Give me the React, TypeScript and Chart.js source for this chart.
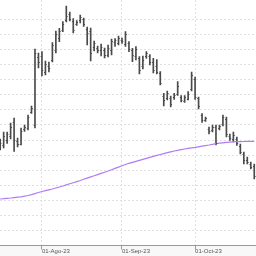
import { useEffect, useRef } from "react";
import { Chart, registerables } from "chart.js";

Chart.register(...registerables);

// Trading days shown (Jul 14 – Oct 25, 2023)
const dates: string[] = [
  "2023-07-14", "2023-07-17", "2023-07-18", "2023-07-19", "2023-07-20", "2023-07-21",
  "2023-07-24", "2023-07-25", "2023-07-26", "2023-07-27", "2023-07-28", "2023-07-31",
  "2023-08-01", "2023-08-02", "2023-08-03", "2023-08-04", "2023-08-07", "2023-08-08",
  "2023-08-09", "2023-08-10", "2023-08-11", "2023-08-14", "2023-08-15", "2023-08-16",
  "2023-08-17", "2023-08-18", "2023-08-21", "2023-08-22", "2023-08-23", "2023-08-24",
  "2023-08-25", "2023-08-28", "2023-08-29", "2023-08-30", "2023-08-31",
  "2023-09-01", "2023-09-04", "2023-09-05", "2023-09-06", "2023-09-07", "2023-09-08",
  "2023-09-11", "2023-09-12", "2023-09-13", "2023-09-14", "2023-09-15", "2023-09-18",
  "2023-09-19", "2023-09-20", "2023-09-21", "2023-09-22", "2023-09-25", "2023-09-26",
  "2023-09-27", "2023-09-28", "2023-09-29",
  "2023-10-02", "2023-10-03", "2023-10-04", "2023-10-05", "2023-10-06", "2023-10-09",
  "2023-10-10", "2023-10-11", "2023-10-12", "2023-10-13", "2023-10-16", "2023-10-17",
  "2023-10-18", "2023-10-19", "2023-10-20", "2023-10-23", "2023-10-24", "2023-10-25",
];

const openValues: number[] = [
  97.5, 100.5, 105.5, 109.5, 123.5, 104.5, 101.5, 116.5, 117.5, 133.5,
  120.5, 188.5, 189.5, 173.5, 179.5, 185.5, 195.5, 207.5, 215.5, 225.5,
  231.5, 224.5, 221.5, 225.5, 226.5, 216.5, 214.5, 198.5, 197.5, 195.5,
  195.5, 190.5, 195.5, 203.5, 202.5, 205.5, 201.5, 202.5, 195.5, 189.5,
  187.5, 179.5, 189.5, 189.5, 183.5, 179.5, 172.5, 149.5, 147.5, 147.5,
  148.5, 151.5, 148.5, 144.5, 146.5, 156.5, 166.5, 147.5, 130.5, 125.5,
  116.5, 115.5, 118.5, 117.5, 121.5, 126.5, 109.5, 106.5, 106.5, 99.5,
  91.5, 85.5, 81.5, 79.5,
];

const highValues: number[] = [
  106.5, 113.5, 113.5, 122.5, 127.5, 107.5, 117.5, 120.5, 130.5, 139.5,
  196.5, 192.5, 194.0, 184.5, 183.5, 203.0, 214.5, 217.2, 223.8, 239.5,
  233.5, 227.0, 225.0, 230.5, 227.5, 218.5, 217.5, 204.5, 199.5, 201.5,
  197.5, 200.5, 206.5, 207.0, 209.5, 207.5, 214.0, 203.8, 197.2, 198.8,
  188.8, 189.5, 193.8, 191.0, 187.2, 186.0, 173.8, 152.2, 154.5, 149.5,
  152.2, 163.8, 150.0, 150.0, 153.8, 173.5, 168.5, 148.5, 132.0, 128.5,
  118.5, 120.5, 120.5, 120.5, 130.5, 128.5, 111.5, 113.5, 108.5, 101.5,
  93.5, 88.5, 83.5, 81.5,
];

const lowValues: number[] = [
  95.5, 97.5, 102.0, 106.5, 94.0, 98.5, 100.5, 114.0, 115.5, 132.0,
  117.5, 177.5, 169.5, 170.5, 173.5, 183.5, 192.5, 203.8, 213.8, 223.5,
  224.5, 212.5, 220.0, 222.5, 219.0, 200.5, 184.5, 194.5, 192.5, 189.5,
  187.5, 188.5, 190.5, 199.0, 200.5, 202.0, 199.0, 193.8, 183.8, 185.5,
  171.5, 176.5, 187.2, 180.5, 172.5, 171.5, 160.5, 139.5, 145.5, 138.5,
  146.2, 150.0, 143.5, 143.0, 145.5, 154.5, 146.2, 136.5, 123.0, 124.0,
  111.5, 113.5, 100.5, 115.5, 119.5, 108.5, 105.0, 103.5, 100.0, 91.5,
  81.5, 81.5, 76.5, 66.5,
];

const closeValues: number[] = [
  102.5, 109.5, 111.5, 118.5, 105.5, 101.5, 114.5, 118.5, 128.5, 137.5,
  192.5, 183.5, 175.5, 181.5, 177.5, 200.5, 211.5, 214.5, 221.5, 229.5,
  226.5, 215.5, 223.5, 228.5, 221.5, 212.5, 192.5, 202.5, 195.5, 198.5,
  190.5, 197.5, 204.5, 205.5, 207.5, 204.5, 211.5, 196.5, 190.5, 196.5,
  175.5, 185.5, 192.5, 183.5, 175.5, 173.5, 162.5, 145.5, 152.5, 141.5,
  150.5, 159.5, 145.5, 148.5, 151.5, 170.5, 148.5, 139.5, 125.5, 127.5,
  114.5, 118.5, 102.5, 119.5, 128.5, 111.5, 107.5, 110.5, 102.5, 93.5,
  85.5, 83.5, 78.5, 69.5,
];

// Long moving average (purple line)
const maValues: number[] = [
  46.5, 46.8, 47.2, 47.5, 47.9, 48.3, 48.7, 49.3, 50.0, 50.9,
  51.9, 53.0, 54.0, 54.9, 55.7, 56.5, 57.5, 58.5, 59.5, 60.6,
  61.7, 62.8, 63.9, 65.0, 66.2, 67.4, 68.6, 69.7, 70.9, 72.1,
  73.3, 74.5, 75.8, 77.1, 78.4, 79.7, 81.0, 82.2, 83.2, 84.2,
  85.2, 86.2, 87.2, 88.2, 89.2, 90.1, 91.0, 91.9, 92.8, 93.7,
  94.5, 95.2, 95.9, 96.5, 97.1, 97.6, 98.1, 98.7, 99.3, 99.9,
  100.5, 101.2, 101.8, 102.3, 102.7, 103.1, 103.4, 103.6, 103.8, 103.9,
  104.0, 104.1, 104.2, 104.2,
];

const monthTickLabels: string[] = ["01-Ago-23", "01-Sep-23", "01-Oct-23"];

const priceGridStep = 15.07;
const priceMax = 245.5;

export default function App() {
  const canvasRef = useRef<HTMLCanvasElement | null>(null);

  useEffect(() => {
    const canvas = canvasRef.current;
    if (!canvas) return;

    const monthStartIdx: number[] = [];
    dates.forEach((d, i) => {
      if (i > 0 && d.slice(5, 7) !== dates[i - 1].slice(5, 7)) monthStartIdx.push(i);
    });

    const ohlcTicks = {
      id: "ohlcTicks",
      afterDatasetsDraw(chart: any) {
        const { ctx, scales, chartArea } = chart;
        const xs = scales.x;
        const ys = scales.y;
        ctx.save();
        ctx.beginPath();
        ctx.rect(chartArea.left, chartArea.top, chartArea.right - chartArea.left, chartArea.bottom - chartArea.top);
        ctx.clip();
        ctx.strokeStyle = "#4a4a4a";
        ctx.lineWidth = 1;
        ctx.beginPath();
        for (let i = 0; i < openValues.length; i++) {
          const x = xs.getPixelForValue(i);
          const yo = Math.round(ys.getPixelForValue(openValues[i])) + 0.5;
          const yc = Math.round(ys.getPixelForValue(closeValues[i])) + 0.5;
          ctx.moveTo(x - 1.3, yo);
          ctx.lineTo(x, yo);
          ctx.moveTo(x, yc);
          ctx.lineTo(x + 1.3, yc);
        }
        ctx.stroke();
        ctx.restore();
      },
    };

    const bottomBand = {
      id: "bottomBand",
      beforeDraw(chart: any) {
        const { ctx, chartArea, width, height } = chart;
        ctx.save();
        ctx.fillStyle = "#f8f8f8";
        ctx.fillRect(0, chartArea.bottom, width, height - chartArea.bottom);
        ctx.restore();
      },
    };

    const chart = new Chart(canvas, {
      type: "bar",
      data: {
        datasets: [
          {
            type: "line",
            label: "Media móvil",
            data: maValues.map((v, i) => ({ x: i, y: v })),
            borderColor: "#b07cf6",
            borderWidth: 1.2,
            pointRadius: 0,
            tension: 0,
            order: 0,
          } as any,
          {
            type: "bar",
            label: "OHLC",
            data: highValues.map((h, i) => ({ x: i, y: [lowValues[i], h] })),
            backgroundColor: "#4a4a4a",
            borderWidth: 0,
            barThickness: 1,
            order: 1,
          } as any,
        ],
      },
      options: {
        responsive: false,
        animation: false,
        layout: { padding: 0 },
        plugins: {
          legend: { display: false },
          tooltip: { enabled: false },
        },
        scales: {
          x: {
            type: "linear",
            min: -0.05,
            max: 73.5,
            offset: false,
            grid: {
              offset: false,
              color: "#e0e0e0",
              lineWidth: 1,
              drawTicks: true,
              tickLength: 4,
              tickColor: "#9a9a9a",
              tickBorderDash: [],
            },
            border: { display: true, color: "#9a9a9a", width: 1, dash: [2, 2] },
            afterBuildTicks: (scale: any) => {
              scale.ticks = monthStartIdx.map((v) => ({ value: v }));
            },
            afterFit: (scale: any) => {
              scale.height = 10.5;
            },
            ticks: {
              autoSkip: false,
              maxRotation: 0,
              minRotation: 0,
              align: "start",
              padding: -1.5,
              color: "#555",
              font: { family: "'Liberation Sans', Arial, sans-serif", size: 6 },
              callback: (value: any) => {
                const k = monthStartIdx.indexOf(Number(value));
                return k >= 0 ? monthTickLabels[k] : "";
              },
            },
          },
          y: {
            type: "linear",
            min: 0,
            max: priceMax,
            grid: {
              color: "#e0e0e0",
              lineWidth: 1,
              drawTicks: false,
            },
            border: { display: false, dash: [2, 2] },
            afterBuildTicks: (scale: any) => {
              const t: { value: number }[] = [];
              for (let v = 0; v < priceMax - 10; v += priceGridStep) t.push({ value: v });
              scale.ticks = t;
            },
            afterFit: (scale: any) => {
              scale.width = 0;
            },
            ticks: { display: false },
          },
        },
      } as any,
      plugins: [bottomBand, ohlcTicks],
    });

    return () => {
      chart.destroy();
    };
  }, []);

  return (
    <div style={{ position: "fixed", left: 0, top: 0, width: 256, height: 256, background: "#fff" }}>
      <canvas ref={canvasRef} width={256} height={256} style={{ display: "block", width: 256, height: 256 }} />
    </div>
  );
}
